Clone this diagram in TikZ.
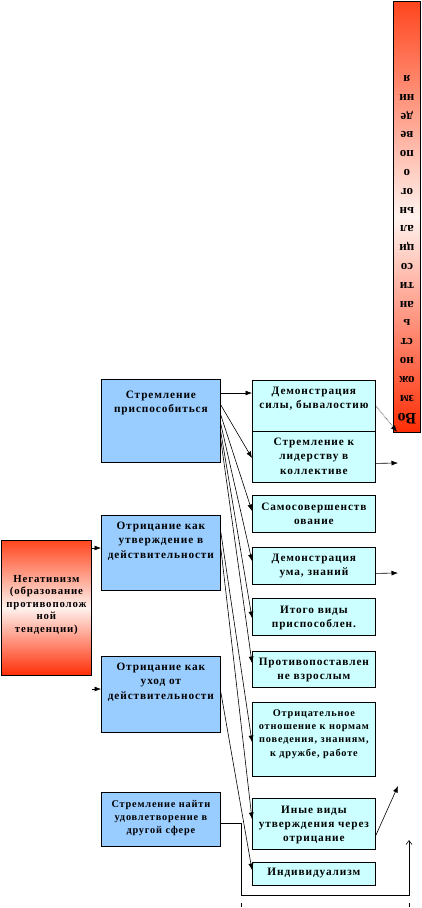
\documentclass[tikz,border=0pt]{standalone}
\usepackage{fontspec}
\setmainfont{Liberation Serif}
\newfontfamily\bxf{Liberation Serif}[LetterSpace=8]
\usetikzlibrary{arrows.meta,calc}
\definecolor{blueF}{RGB}{153,204,255}
\definecolor{cyanF}{RGB}{204,255,255}
\definecolor{redT}{RGB}{255,70,30}
\definecolor{redB}{RGB}{255,45,5}
\definecolor{redM}{RGB}{255,242,238}
\begin{document}
\begin{tikzpicture}[x=1pt,y=-1pt,
  box/.style={draw=black, line width=0.8pt, inner sep=0pt, anchor=north west},
  bluebox/.style={box, fill=blueF, minimum width=119pt},
  cyanbox/.style={box, fill=cyanF, minimum width=123pt},
  redbox/.style={box, top color=redT, bottom color=redB, middle color=redM},
  txt/.style={inner sep=0pt, align=center, anchor=north, font=\bxf\bfseries\fontsize{11.3}{14.2}\selectfont},
  smalltxt/.style={txt, font=\bxf\bfseries\fontsize{10.3}{13}\selectfont},
  arr/.style={-{Latex[length=6.5pt,width=5pt]}, line width=0.6pt},
  dotarr/.style={arr, densely dotted},
  openarr/.style={-{Straight Barb[length=4pt,width=6pt]}, line width=0.6pt},
  ln/.style={line width=0.6pt}]
\useasboundingbox (0,0) rectangle (422,908);

% left red box
\node[redbox, minimum width=90pt, minimum height=135pt] (n) at (1,540) {};
\node[smalltxt, anchor=center, font=\bxf\bfseries\fontsize{10.8}{12.4}\selectfont] (tn) at ($(n.center)+(0,-3)$) {Негативизм\\(образование\\противополож\\ной\\тенденции)};

% right red box
\node[redbox, minimum width=27pt, minimum height=431pt] (r) at (393,1) {};
\node[inner sep=0pt, align=center, rotate=180, font=\bfseries\fontsize{13}{18.8}\selectfont] (tr) at ($(r.center)+(0,33)$)
 {{\fontsize{16}{18.8}\selectfont Во}\\зм\\ож\\но\\ст\\ь\\ан\\ти\\со\\ци\\ал\\ьн\\ог\\о\\по\\ве\\де\\ни\\я};

% blue boxes
\node[bluebox, minimum height=83pt] (b1) at (101,379) {};
\node[bluebox, minimum height=75pt] (b2) at (101,515) {};
\node[bluebox, minimum height=76pt] (b3) at (101,656) {};
\node[bluebox, minimum height=54pt] (b4) at (101,792) {};
\node[txt] (tb1) at ($(b1.north)+(0,12)$) {Стремление\\приспособиться};
\node[txt] (tb2) at ($(b2.north)+(0,7)$) {Отрицание как\\утверждение в\\действительности};
\node[txt] (tb3) at ($(b3.north)+(0,7)$) {Отрицание как\\уход от\\действительности};
\node[smalltxt] (tb4) at ($(b4.north)+(0,8)$) {Стремление найти\\удовлетворение в\\другой сфере};

% cyan boxes
\node[cyanbox, minimum height=51pt] (c1) at (252,380) {};
\node[cyanbox, minimum height=51pt] (c2) at (252,431) {};
\node[cyanbox, minimum height=37pt] (c3) at (252,495) {};
\node[cyanbox, minimum height=37pt] (c4) at (252,547) {};
\node[cyanbox, minimum height=37pt] (c5) at (252,598) {};
\node[cyanbox, minimum height=36pt] (c6) at (252,651) {};
\node[cyanbox, minimum height=74pt] (c7) at (252,702) {};
\node[cyanbox, minimum height=51pt] (c8) at (252,798) {};
\node[cyanbox, minimum height=23pt] (c9) at (252,862) {};
\node[txt] (tc1) at ($(c1.north)+(0,7)$) {Демонстрация\\силы, бывалостию};
\node[txt] (tc2) at ($(c2.north)+(0,7)$) {Стремление к\\лидерству в\\коллективе};
\node[txt] (tc3) at ($(c3.north)+(0,7.5)$) {Самосовершенств\\ование};
\node[txt] (tc4) at ($(c4.north)+(0,7)$) {Демонстрация\\ума, знаний};
\node[txt] (tc5) at ($(c5.north)+(0,7.5)$) {Итого виды\\приспособлен.};
\node[txt] (tc6) at ($(c6.north)+(0,7)$) {Противопоставлен\\не взрослым};
\node[smalltxt, font=\bxf\bfseries\fontsize{10.3}{13.4}\selectfont] (tc7) at ($(c7.north)+(0,7)$) {Отрицательное\\отношение к нормам\\поведения, знаниям,\\к дружбе, работе};
\node[txt] (tc8) at ($(c8.north)+(0,7.5)$) {Иные виды\\утверждения через\\отрицание};
\node[txt] (tc9) at ($(c9.north)+(0,6)$) {Индивидуализм};

% helper coordinates
\coordinate (y548) at (0,548);
\coordinate (f5) at (92,689);
\coordinate (e2) at (398,463);
\coordinate (e4) at (398,573);
\coordinate (e8) at (398,786);
\coordinate (k1) at (241,895);
\coordinate (k2) at (409,895);
\coordinate (k3) at (409,840);

% left arrows
\draw[arr] (n.east |- y548) -- (b2.west |- y548);
\draw[arr] (f5) -- (b3.west |- f5);

% B1 -> C1
\draw[arr] ($(b1.north east)+(0,14)$) -- ($(c1.north west)+(0,13)$);
% fan from B1
\draw[arr] ($(b1.north east)+(0,26)$) -- ($(c2.north west)+(0,27)$);
\draw[arr] ($(b1.north east)+(0,36)$) -- ($(c3.north west)+(0,16)$);
\draw[arr] ($(b1.north east)+(0,45)$) -- ($(c4.north west)+(0,14)$);
\draw[arr] ($(b1.north east)+(0,53)$) -- ($(c5.north west)+(0,20)$);
\draw[arr] ($(b1.north east)+(0,61)$) -- ($(c6.north west)+(0,12)$);
% fan from B2
\draw[arr] ($(b2.north east)+(0,17)$) -- ($(c7.north west)+(0,40)$);
\draw[arr] ($(b2.north east)+(0,33)$) -- ($(c8.north west)+(0,21)$);
% B3 -> C9
\draw[arr] ($(b3.north east)+(0,36)$) -- ($(c9.north west)+(0,8)$);

% outgoing from C column
\draw[dotarr] (c1.east) -- ($(r.south west)+(4,-1)$);
\draw[arr] ($(c2.east)+(0,6.5)$) -- (e2);
\draw[arr] ($(c4.east)+(0,7.5)$) -- (e4);
\draw[arr] ($(c8.east)+(0,11.5)$) -- (e8);

% B4 bracket
\draw[openarr] ($(b4.north east)+(0,31)$) -| (k1) -- (k2) -- (k3);
\draw[ln, line width=0.5pt] (241,903) -- (241,907);
\draw[ln, line width=0.5pt] (409,903) -- (409,907);
\end{tikzpicture}
\end{document}
